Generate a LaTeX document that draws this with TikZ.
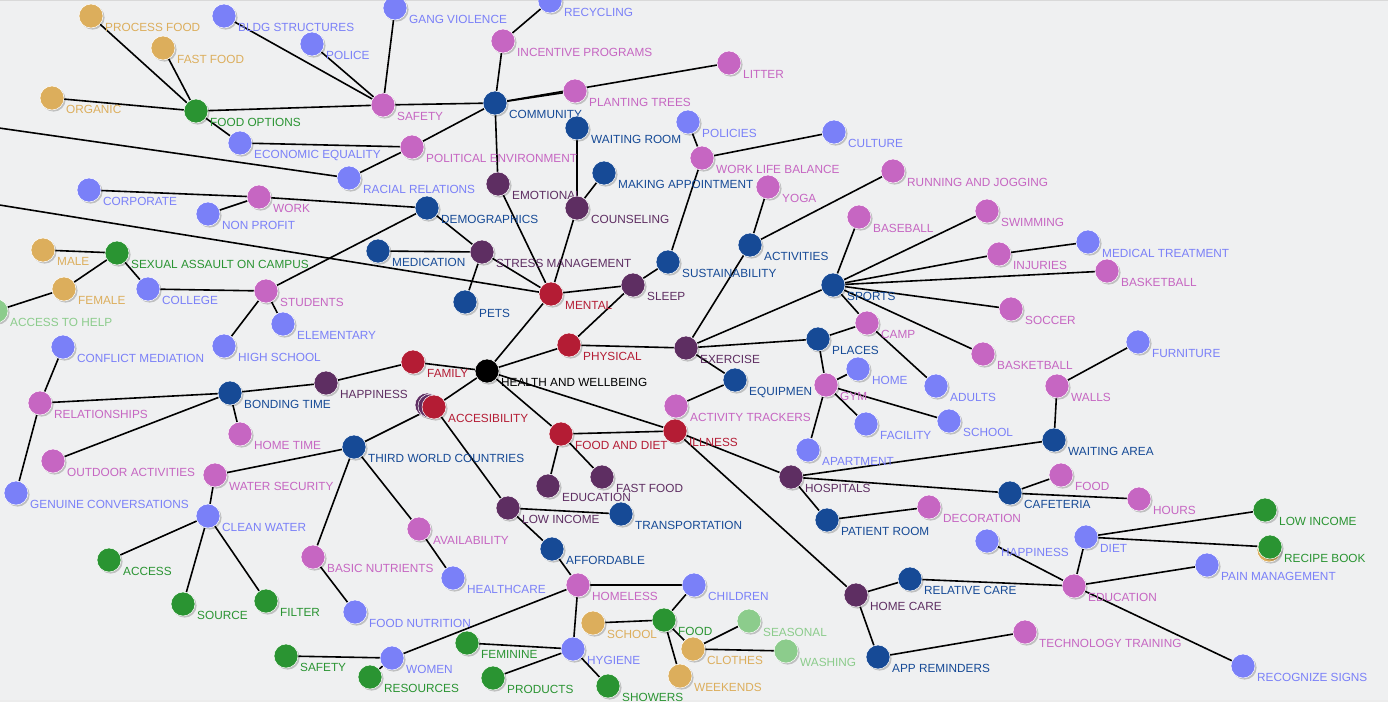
\documentclass[tikz,border=0pt]{standalone}
\usepackage{fontspec}
\setmainfont{Liberation Sans}
\usetikzlibrary{backgrounds, shadows}
\definecolor{bgpaper}{RGB}{239,240,241}
\definecolor{hred}{RGB}{180,28,52}
\definecolor{hpurple}{RGB}{94,46,98}
\definecolor{hblue}{RGB}{22,74,150}
\definecolor{hmag}{RGB}{198,102,194}
\definecolor{hperi}{RGB}{122,128,248}
\definecolor{hgreen}{RGB}{42,148,50}
\definecolor{hlgreen}{RGB}{140,204,140}
\definecolor{htan}{RGB}{220,174,92}

\begin{document}
\begin{tikzpicture}[x=1pt, y=-1pt,
  topic/.style={circle, minimum size=24pt, inner sep=0pt, draw=white, line width=0.5pt,
    drop shadow={shadow xshift=1.6pt, shadow yshift=-1.6pt, fill=black, opacity=0.2}},
  tag/.style={inner sep=0pt, anchor=base west, font=\fontsize{11.8}{13}\selectfont},
  link/.style={line width=1.6pt, black}]
  \useasboundingbox (0,0) rectangle (1388,702);
  \clip (0,0) rectangle (1388,702);
  % stacked circles behind two of the topics
  \node[topic, fill=hpurple] (acc-b1) at (427,405) {};
  \node[topic, fill=hpurple] (acc-b2) at (430,406) {};
  \node[topic, fill=htan] (rb-b) at (1269,550) {};
  % topics: name/x/y/colour/text
  \foreach \n/\x/\y/\c/\t in {
    hw/487/371/black/HEALTH AND WELLBEING,
    mental/551/294/hred/MENTAL, physical/569/345/hred/PHYSICAL,
    family/413/362/hred/FAMILY, accesib/434/407/hred/ACCESIBILITY,
    fooddiet/561/434/hred/FOOD AND DIET, illness/675/431/hred/ILLNESS,
    stress/482/252/hpurple/STRESS MANAGEMENT, emotional/498/184/hpurple/EMOTIONAL,
    counsel/577/208/hpurple/COUNSELING, sleep/633/285/hpurple/SLEEP,
    exercise/686/348/hpurple/EXERCISE, happymid/326/383/hpurple/HAPPINESS,
    lowincmid/508/508/hpurple/LOW INCOME, edumid/548/486/hpurple/EDUCATION,
    fastmid/602/477/hpurple/FAST FOOD, hospitals/791/477/hpurple/HOSPITALS,
    homecare/856/595/hpurple/HOME CARE,
    community/495/103/hblue/COMMUNITY, demograph/427/208/hblue/DEMOGRAPHICS,
    medication/378/251/hblue/MEDICATION, pets/465/302/hblue/PETS,
    waitroom/577/128/hblue/WAITING ROOM, makeappt/604/173/hblue/MAKING APPOINTMENT,
    sustain/668/262/hblue/SUSTAINABILITY, activities/750/245/hblue/ACTIVITIES,
    sports/833/285/hblue/SPORTS, places/818/339/hblue/PLACES,
    equip/735/380/hblue/EQUIPMEN, bonding/230/393/hblue/BONDING TIME,
    thirdworld/354/447/hblue/THIRD WORLD COUNTRIES, transport/621/514/hblue/TRANSPORTATION,
    afford/552/549/hblue/AFFORDABLE, waitarea/1054/440/hblue/WAITING AREA,
    cafeteria/1010/493/hblue/CAFETERIA, patroom/827/520/hblue/PATIENT ROOM,
    relcare/910/579/hblue/RELATIVE CARE, appremind/878/657/hblue/APP REMINDERS,
    safety/383/105/hmag/SAFETY, incentive/503/41/hmag/INCENTIVE PROGRAMS,
    planting/575/91/hmag/PLANTING TREES, litter/729/63/hmag/LITTER,
    political/412/147/hmag/POLITICAL ENVIRONMENT, work/259/197/hmag/WORK,
    students/266/291/hmag/STUDENTS, relations/40/403/hmag/RELATIONSHIPS,
    hometime/240/434/hmag/HOME TIME, outdoor/53/461/hmag/OUTDOOR ACTIVITIES,
    watersec/215/475/hmag/WATER SECURITY, basicnut/313/557/hmag/BASIC NUTRIENTS,
    avail/419/529/hmag/AVAILABILITY, homeless/578/585/hmag/HOMELESS,
    wlb/702/158/hmag/WORK LIFE BALANCE, yoga/768/187/hmag/YOGA,
    running/893/171/hmag/RUNNING AND JOGGING, baseball/859/217/hmag/BASEBALL,
    swimming/987/211/hmag/SWIMMING, injuries/999/254/hmag/INJURIES,
    basketr/1107/271/hmag/BASKETBALL, soccer/1011/309/hmag/SOCCER,
    camp/867/323/hmag/CAMP, basketm/983/354/hmag/BASKETBALL,
    gym/826/385/hmag/GYM, tracker/676/406/hmag/ACTIVITY TRACKERS,
    walls/1057/386/hmag/WALLS, foodr/1061/475/hmag/FOOD,
    hours/1139/499/hmag/HOURS, decor/929/507/hmag/DECORATION,
    edur/1074/586/hmag/EDUCATION, techtrain/1025/632/hmag/TECHNOLOGY TRAINING,
    bldg/224/16/hperi/BLDG STRUCTURES, police/312/44/hperi/POLICE,
    gang/395/8/hperi/GANG VIOLENCE, recycling/550/1/hperi/RECYCLING,
    econ/240/143/hperi/ECONOMIC EQUALITY, racial/349/178/hperi/RACIAL RELATIONS,
    corporate/89/190/hperi/CORPORATE, nonprofit/208/214/hperi/NON PROFIT,
    college/148/289/hperi/COLLEGE, elementary/283/324/hperi/ELEMENTARY,
    highschool/224/346/hperi/HIGH SCHOOL, conflict/63/347/hperi/CONFLICT MEDIATION,
    genuine/16/493/hperi/GENUINE CONVERSATIONS, cleanwater/208/516/hperi/CLEAN WATER,
    healthcare/453/578/hperi/HEALTHCARE, foodnut/355/612/hperi/FOOD NUTRITION,
    women/392/658/hperi/WOMEN, hygiene/573/649/hperi/HYGIENE,
    children/694/585/hperi/CHILDREN, policies/688/122/hperi/POLICIES,
    culture/834/132/hperi/CULTURE, medtreat/1088/242/hperi/MEDICAL TREATMENT,
    home/858/369/hperi/HOME, adults/936/386/hperi/ADULTS,
    facility/866/424/hperi/FACILITY, schoolr/949/421/hperi/SCHOOL,
    apartment/808/450/hperi/APARTMENT, furniture/1138/342/hperi/FURNITURE,
    happyr/987/541/hperi/HAPPINESS, diet/1086/537/hperi/DIET,
    painmgmt/1207/565/hperi/PAIN MANAGEMENT, recognize/1243/666/hperi/RECOGNIZE SIGNS,
    foodopt/196/111/hgreen/FOOD OPTIONS, sexassault/117/253/hgreen/SEXUAL ASSAULT ON CAMPUS,
    access/109/560/hgreen/ACCESS, source/183/604/hgreen/SOURCE,
    filter/266/601/hgreen/FILTER, safetyb/286/656/hgreen/SAFETY,
    resources/370/677/hgreen/RESOURCES, feminine/467/643/hgreen/FEMININE,
    products/493/678/hgreen/PRODUCTS, showers/608/686/hgreen/SHOWERS,
    foodb/664/620/hgreen/FOOD, lowincr/1265/510/hgreen/LOW INCOME,
    recipe/1270/547/hgreen/RECIPE BOOK,
    helpacc/-4/311/hlgreen/ACCESS TO HELP, seasonal/749/621/hlgreen/SEASONAL,
    washing/786/651/hlgreen/WASHING,
    procfood/91/16/htan/PROCESS FOOD, fastfood/163/48/htan/FAST FOOD,
    organic/52/98/htan/ORGANIC, male/43/250/htan/MALE,
    female/64/289/htan/FEMALE, schoolb/593/623/htan/SCHOOL,
    clothes/693/649/htan/CLOTHES, weekends/680/676/htan/WEEKENDS}{
    \node[topic, fill=\c] (\n) at (\x,\y) {};
    \node[tag, text=\c] (\n-l) at ([shift={(14,15)}]\n.center) {\t};
  }
  % two links run in from beyond the left edge
  \coordinate (offA) at (-50,121);
  \coordinate (offB) at (-50,197);
  \begin{scope}[on background layer]
    \clip (0,0) rectangle (1388,702);
    \fill[bgpaper] (0,0) rectangle (1388,702);
    \draw[gray!30, line width=1pt] (0,0.5) -- (1388,0.5);
    \draw[gray!15, line width=2pt] (0,701) -- (1388,701);
    \foreach \a/\b in {hw/mental, hw/physical, hw/family, hw/accesib, hw/fooddiet, hw/illness,
      mental/stress, mental/emotional, mental/counsel, mental/sleep, mental/offB,
      physical/sleep, physical/exercise, family/happymid,
      accesib/thirdworld, accesib/lowincmid,
      fooddiet/illness, fooddiet/edumid, fooddiet/fastmid,
      illness/hospitals, illness/homecare,
      stress/medication, stress/pets, stress/demograph,
      emotional/community, counsel/waitroom, counsel/makeappt,
      sleep/sustain, sustain/wlb, wlb/policies, wlb/culture,
      exercise/activities, exercise/sports, exercise/places, exercise/equip,
      activities/yoga, activities/running,
      sports/baseball, sports/swimming, sports/injuries, sports/basketr,
      sports/soccer, sports/basketm, sports/camp, injuries/medtreat,
      places/camp, camp/adults, places/gym,
      gym/home, gym/facility, gym/schoolr, gym/apartment, equip/tracker,
      happymid/bonding, bonding/relations, bonding/hometime, bonding/outdoor,
      relations/conflict, relations/genuine,
      thirdworld/watersec, thirdworld/basicnut, thirdworld/avail,
      watersec/cleanwater, cleanwater/access, cleanwater/source, cleanwater/filter,
      basicnut/foodnut, avail/healthcare,
      lowincmid/transport, lowincmid/afford, afford/homeless,
      homeless/children, homeless/women, homeless/hygiene,
      women/safetyb, women/resources,
      hygiene/feminine, hygiene/products, hygiene/showers,
      foodb/schoolb, foodb/children, foodb/clothes, foodb/weekends,
      clothes/seasonal, clothes/washing,
      hospitals/waitarea, hospitals/cafeteria, hospitals/patroom,
      waitarea/walls, walls/furniture, cafeteria/foodr, cafeteria/hours,
      patroom/decor, homecare/relcare, homecare/appremind, appremind/techtrain,
      relcare/edur, happyr/edur, diet/edur, edur/painmgmt, edur/recognize,
      diet/lowincr, diet/recipe,
      community/safety, community/incentive, community/planting,
      community/litter, community/political, incentive/recycling,
      safety/foodopt, safety/bldg, safety/police, safety/gang,
      foodopt/procfood, foodopt/fastfood, foodopt/organic, foodopt/econ,
      econ/political, political/racial, racial/offA,
      demograph/work, demograph/students, work/corporate, work/nonprofit,
      students/college, students/elementary, students/highschool,
      college/sexassault, sexassault/male, sexassault/female, female/helpacc}
      \draw[link] (\a) -- (\b);
  \end{scope}
\end{tikzpicture}
\end{document}
